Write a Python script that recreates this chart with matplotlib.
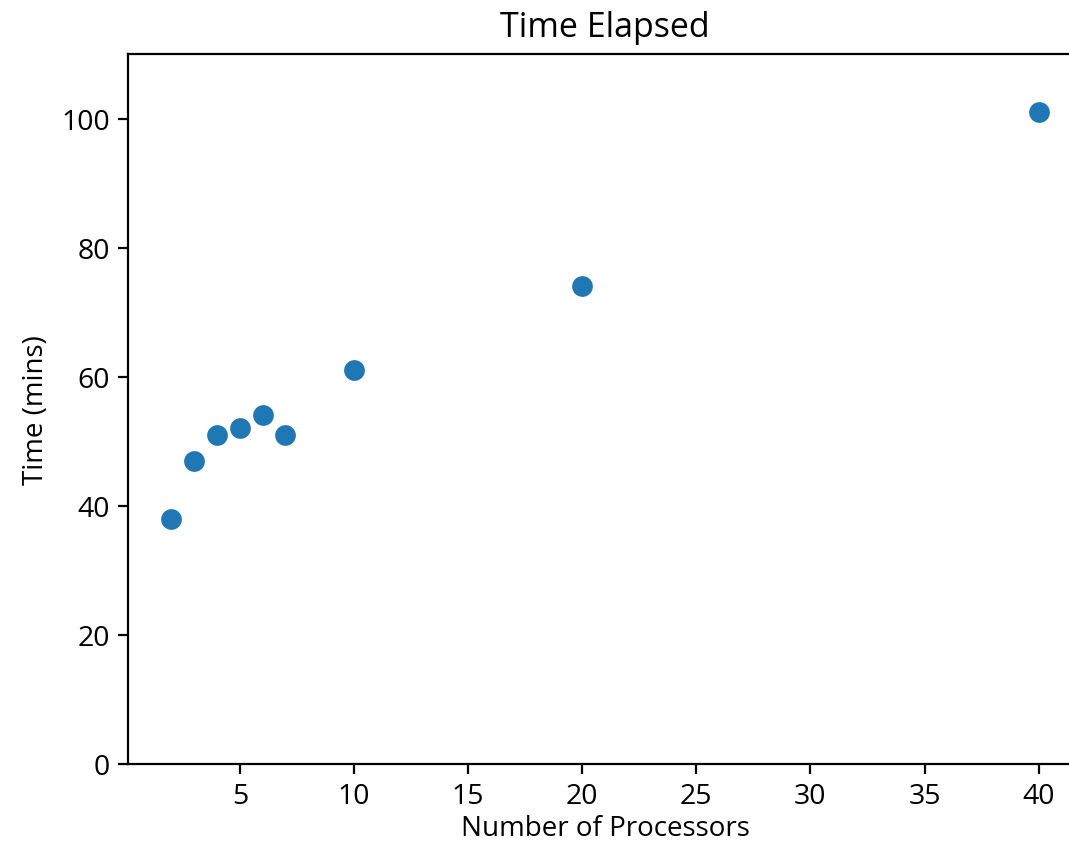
import matplotlib
matplotlib.use("Agg")
import matplotlib.pyplot as plt

plt.rcParams['font.family'] = ['Open Sans', 'DejaVu Sans']

processors = [2, 3, 4, 5, 6, 7, 10, 20, 40]
minutes = [38, 47, 51, 52, 54, 51, 61, 74, 101]

fig = plt.figure(figsize=(10.69, 8.45), dpi=100)
ax = fig.add_axes([128/1069, 80/845, 954/1069, 710/845])
ax.scatter(processors, minutes, s=270, color='#1f77b4', edgecolor='white', linewidth=1.5)
ax.set_ylim(0, 110)
ax.set_title("Time Elapsed", fontsize=24.5, pad=13)
ax.set_xlabel("Number of Processors", fontsize=20, labelpad=3)
ax.set_ylabel("Time (mins)", fontsize=20, labelpad=8)
ax.tick_params(labelsize=20.5, length=7, width=1.6, pad=6)
for sp in ax.spines.values():
    sp.set_linewidth(1.6)
fig.savefig("out.png", dpi=100)
